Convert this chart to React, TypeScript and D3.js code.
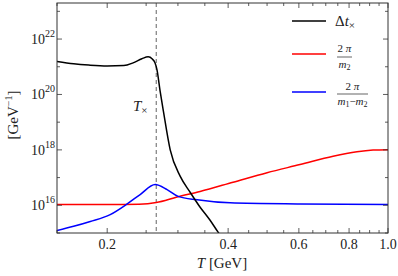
import * as d3 from "d3";
import React from "react";

// temperature grid (GeV) and curves
const blackT = [0.15, 0.165, 0.18, 0.2, 0.22, 0.232, 0.244, 0.253, 0.259, 0.263, 0.266, 0.271, 0.276, 0.287, 0.304, 0.322, 0.34, 0.36, 0.378, 0.4];
const blackV = [1.55e21, 1.28e21, 1.15e21, 1.07e21, 1.1e21, 1.38e21, 1.95e21, 2.29e21, 1.9e21, 1.4e21, 7.9e20, 1.26e20, 2.5e19, 1e18, 1.1e17, 2.9e16, 8.9e15, 3e15, 1.05e15, 3.5e14];

const redT = [0.15, 0.2, 0.24, 0.265, 0.2985, 0.3406, 0.4115, 0.5, 0.604, 0.73, 0.837, 0.918, 1.0];
const redV = [1.07e16, 1.07e16, 1.1e16, 1.26e16, 2.0e16, 3.16e16, 6.8e16, 1.5e17, 2.95e17, 5.9e17, 8.5e17, 9.8e17, 1.02e18];

const blueT = [0.15, 0.165, 0.1815, 0.2035, 0.2243, 0.2416, 0.2633, 0.2819, 0.3003, 0.335, 0.4045, 0.604, 1.0];
const blueV = [1.23e15, 1.74e15, 2.6e15, 4.6e15, 1.12e16, 2.45e16, 5.6e16, 3.7e16, 2.1e16, 1.58e16, 1.23e16, 1.12e16, 1.07e16];

const Tcross = 0.265;

const xMajor = [0.2, 0.4, 0.6, 0.8, 1.0];
const xMinor = [0.15, 0.25, 0.3, 0.35, 0.45, 0.5, 0.55, 0.65, 0.7, 0.75, 0.85, 0.9, 0.95];
const yMajorExp = [16, 18, 20, 22];
const yMinorExp = [15, 17, 19, 21, 23];

const W = 398;
const H = 276;
const left = 57, right = 388, top = 3, bottom = 233;
const serif = "Liberation Serif";
const frame = "#333";

const App = () => {
  const x = d3.scaleLog([0.15, 1.0], [left, right]);
  const y = d3.scaleLog([1e15, 2e23], [bottom, top]);

  const line = d3
    .line<[number, number]>()
    .x((d) => x(d[0]))
    .y((d) => y(d[1]))
    .curve(d3.curveMonotoneX);

  const pairs = (t: number[], v: number[]) => t.map((ti, i) => [ti, v[i]] as [number, number]);

  return (
    <svg width={W} height={H} style={{ position: "absolute", left: 0, top: 0 }} fontFamily={serif}>
      <defs>
        <clipPath id="plot">
          <rect x={left} y={top} width={right - left} height={bottom - top} />
        </clipPath>
      </defs>
      <rect width={W} height={H} fill="white" />

      <g clipPath="url(#plot)" fill="none" strokeWidth={1.5}>
        <line x1={x(Tcross)} x2={x(Tcross)} y1={top} y2={bottom} stroke="#888" strokeWidth={1.3} strokeDasharray="4,3" />
        <path d={line(pairs(redT, redV)) ?? undefined} stroke="#f00" />
        <path d={line(pairs(blueT, blueV)) ?? undefined} stroke="#00f" />
        <path d={line(pairs(blackT, blackV)) ?? undefined} stroke="#000" />
      </g>

      {/* frame */}
      <rect x={left} y={top} width={right - left} height={bottom - top} fill="none" stroke={frame} strokeWidth={1} />

      {/* ticks on all four sides */}
      <g stroke={frame} strokeWidth={0.8}>
        {xMajor.map((t) => (
          <g key={"xM" + t}>
            <line x1={x(t)} x2={x(t)} y1={bottom} y2={bottom - 5} />
            <line x1={x(t)} x2={x(t)} y1={top} y2={top + 5} />
          </g>
        ))}
        {xMinor.map((t) => (
          <g key={"xm" + t}>
            <line x1={x(t)} x2={x(t)} y1={bottom} y2={bottom - 3} />
            <line x1={x(t)} x2={x(t)} y1={top} y2={top + 3} />
          </g>
        ))}
        {yMajorExp.map((e) => (
          <g key={"yM" + e}>
            <line x1={left} x2={left + 5} y1={y(10 ** e)} y2={y(10 ** e)} />
            <line x1={right} x2={right - 5} y1={y(10 ** e)} y2={y(10 ** e)} />
          </g>
        ))}
        {yMinorExp.map((e) => (
          <g key={"ym" + e}>
            <line x1={left} x2={left + 3} y1={y(10 ** e)} y2={y(10 ** e)} />
            <line x1={right} x2={right - 3} y1={y(10 ** e)} y2={y(10 ** e)} />
          </g>
        ))}
      </g>

      {/* tick labels */}
      <g fontSize={14} fill="#222">
        {xMajor.map((t) => (
          <text key={"xl" + t} x={x(t)} y={249} textAnchor="middle">
            {t.toFixed(1)}
          </text>
        ))}
        {yMajorExp.map((e) => (
          <text key={"yl" + e} x={55} y={y(10 ** e) + 5} textAnchor="end">
            10
            <tspan fontSize={10} dy={-7}>
              {e}
            </tspan>
          </text>
        ))}
      </g>

      {/* axis titles */}
      <text x={222} y={268} textAnchor="middle" fontSize={15} fill="#222">
        <tspan fontStyle="italic">T</tspan> [GeV]
      </text>
      <text transform="translate(18,115) rotate(-90)" textAnchor="middle" fontSize={15} fill="#222">
        [GeV
        <tspan fontSize={10} dy={-6}>
          −1
        </tspan>
        <tspan dy={6}>]</tspan>
      </text>

      {/* T_x marker label */}
      <text x={133} y={111} fontSize={15} fill="#222">
        <tspan fontStyle="italic">T</tspan>
        <tspan fontSize={11} dy={3}>×</tspan>
      </text>

      {/* legend */}
      <g strokeWidth={1.5}>
        <line x1={292} x2={326} y1={21} y2={21} stroke="#000" />
        <line x1={292} x2={326} y1={54} y2={54} stroke="#f00" />
        <line x1={292} x2={326} y1={92} y2={92} stroke="#00f" />
      </g>
      <text x={335} y={26} fontSize={15} fill="#222">
        Δ<tspan fontStyle="italic">t</tspan>
        <tspan fontSize={11} dy={3}>×</tspan>
      </text>
      <g fontSize={11} fill="#222">
        <text x={344.5} y={52} textAnchor="middle">
          2 <tspan fontStyle="italic">π</tspan>
        </text>
        <line x1={337} x2={352} y1={57} y2={57} stroke="#222" strokeWidth={0.7} />
        <text x={344.5} y={68} textAnchor="middle" fontStyle="italic">
          m<tspan fontSize={8} dy={2} fontStyle="normal">2</tspan>
        </text>

        <text x={352.5} y={90} textAnchor="middle">
          2 <tspan fontStyle="italic">π</tspan>
        </text>
        <line x1={337} x2={368} y1={94} y2={94} stroke="#222" strokeWidth={0.7} />
        <text x={352.5} y={105} textAnchor="middle" fontStyle="italic">
          m<tspan fontSize={8} dy={2} fontStyle="normal">1</tspan>
          <tspan dy={-2} fontStyle="normal">−</tspan>m
          <tspan fontSize={8} dy={2} fontStyle="normal">2</tspan>
        </text>
      </g>
    </svg>
  );
};

export default App;
